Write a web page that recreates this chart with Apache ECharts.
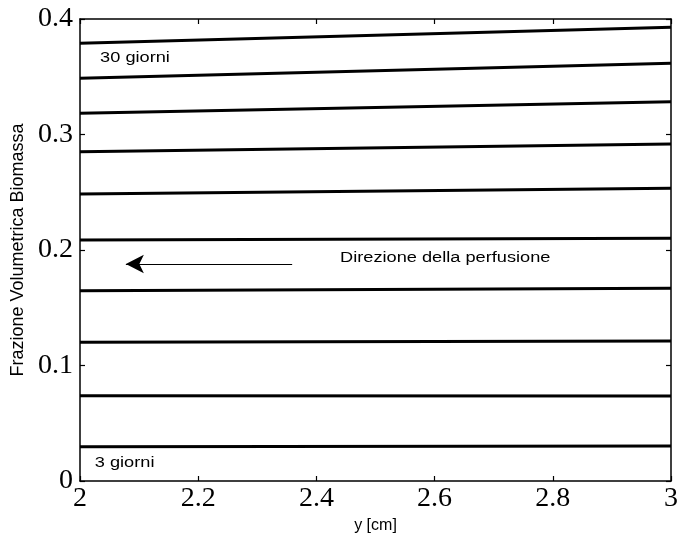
<!DOCTYPE html>
<html>
<head>
<meta charset="utf-8">
<script src="https://cdn.jsdelivr.net/npm/echarts@6/dist/echarts.min.js"></script>
<style>
  html, body { margin: 0; padding: 0; background: #fff; }
  #chart { width: 681px; height: 544px; }
</style>
</head>
<body>
<div id="chart"></div>
<script>
// Biomass volume fraction profiles along y, one line per time step (3 → 30 giorni)
var yRange = [2, 3];
var startValues = [0.379, 0.3487, 0.3184, 0.2851, 0.2485, 0.2087, 0.1648, 0.1201, 0.0739, 0.0297];
var endValues   = [0.3928, 0.3616, 0.3284, 0.2918, 0.2534, 0.2101, 0.1668, 0.1212, 0.0736, 0.0303];

var xTicks = [2, 2.2, 2.4, 2.6, 2.8, 3];
var yTicks = [0, 0.1, 0.2, 0.3, 0.4];

// Annotation anchors in data coordinates
var labelTop = { text: '30 giorni', at: [2.034, 0.366] };
var labelBottom = { text: '3 giorni', at: [2.025, 0.0156] };
var labelDir = { text: 'Direzione della perfusione', at: [2.44, 0.193] };
var arrowFrom = [2.359, 0.1879];
var arrowTo = [2.0776, 0.1879];

var SERIF = '"Liberation Serif", "DejaVu Serif", serif';
var SANS = '"Liberation Sans", Arial, sans-serif';

var chart = echarts.init(document.getElementById('chart'));

var series = startValues.map(function (v, i) {
  return {
    type: 'line',
    data: [[yRange[0], v], [yRange[1], endValues[i]]],
    showSymbol: false,
    symbol: 'none',
    silent: true,
    lineStyle: { color: '#000', width: 3 },
    z: 3
  };
});

// Arrow showing the perfusion direction
series.push({
  type: 'line',
  data: [],
  silent: true,
  markLine: {
    silent: true,
    symbol: ['none', 'arrow'],
    symbolSize: [14, 18],
    label: { show: false },
    lineStyle: { color: '#000', width: 1, type: 'solid' },
    data: [[{ coord: arrowFrom }, { coord: arrowTo }]]
  }
});

var axisCommon = {
  type: 'value',
  axisLine: { show: true, onZero: false, lineStyle: { color: '#000', width: 1.5 } },
  axisTick: { show: true, inside: true, length: 5, lineStyle: { color: '#000', width: 1.2 } },
  splitLine: { show: false }
};

chart.setOption({
  animation: false,
  backgroundColor: '#fff',
  grid: { left: 80, right: 8, top: 19, bottom: 63 },
  xAxis: [
    Object.assign({}, axisCommon, {
      min: xTicks[0], max: xTicks[xTicks.length - 1], interval: 0.2,
      position: 'bottom',
      name: 'y [cm]', nameLocation: 'middle', nameGap: 36,
      nameTextStyle: { fontFamily: SANS, fontSize: 16, color: '#000' },
      axisLabel: { fontFamily: SERIF, fontSize: 28, color: '#000', margin: 4 }
    }),
    Object.assign({}, axisCommon, {
      min: xTicks[0], max: xTicks[xTicks.length - 1], interval: 0.2,
      position: 'top',
      axisLabel: { show: false }
    })
  ],
  yAxis: [
    Object.assign({}, axisCommon, {
      min: yTicks[0], max: yTicks[yTicks.length - 1], interval: 0.1,
      position: 'left',
      name: 'Frazione Volumetrica Biomassa', nameLocation: 'middle', nameGap: 48,
      nameTextStyle: { fontFamily: SANS, fontSize: 18, color: '#000' },
      axisLabel: { fontFamily: SERIF, fontSize: 28, color: '#000', margin: 7 }
    }),
    Object.assign({}, axisCommon, {
      min: yTicks[0], max: yTicks[yTicks.length - 1], interval: 0.1,
      position: 'right',
      axisLabel: { show: false }
    })
  ],
  series: series
});

// Annotation text, set a little wide to suit the plot's proportions
function textAt(item) {
  var p = chart.convertToPixel({ gridIndex: 0 }, item.at);
  return {
    type: 'text',
    x: p[0], y: p[1],
    scaleX: 1.3,
    silent: true,
    style: {
      text: item.text,
      fontFamily: SANS, fontSize: 14, fill: '#000',
      textAlign: 'left', textVerticalAlign: 'middle'
    },
    z: 10
  };
}

chart.setOption({
  graphic: [textAt(labelTop), textAt(labelBottom), textAt(labelDir)]
});
</script>
</body>
</html>
